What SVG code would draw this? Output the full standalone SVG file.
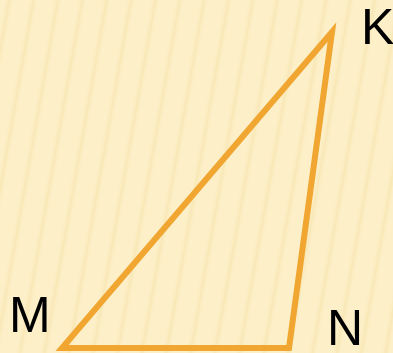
<svg xmlns="http://www.w3.org/2000/svg" width="393" height="353" viewBox="0 0 393 353">
<defs>
<linearGradient id="sg" x1="0" y1="0" x2="1" y2="0">
<stop offset="0" stop-color="#FCEDC2" stop-opacity="0"/>
<stop offset="0.5" stop-color="#F7E4AE" stop-opacity="0.7"/>
<stop offset="1" stop-color="#FCEDC2" stop-opacity="0"/>
</linearGradient>
<pattern id="stripes" width="24" height="400" patternUnits="userSpaceOnUse" patternTransform="rotate(10)">
<rect x="4" y="0" width="10" height="400" fill="url(#sg)"/>
</pattern>
<style>
.lbl{font-family:"Liberation Sans",Arial,sans-serif;font-size:50px;fill:#000}
.edge{fill:none;stroke:#F0A630;stroke-width:6;stroke-linejoin:miter}
</style>
</defs>
<rect width="393" height="353" fill="#FDF0C9"/>
<rect width="393" height="353" fill="url(#stripes)"/>
<g id="connectors">
<polygon class="edge" points="332,32 62,348 289,348"/>
</g>
<g id="node-K"><text class="lbl" x="361" y="44">K</text></g>
<g id="node-M"><text class="lbl" x="9" y="332">M</text></g>
<g id="node-N"><text class="lbl" x="327" y="345">N</text></g>
</svg>
